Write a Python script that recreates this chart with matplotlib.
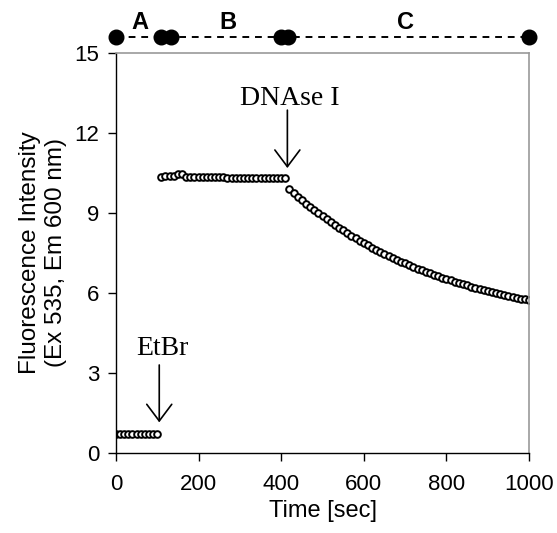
import matplotlib
matplotlib.use("Agg")
import matplotlib.pyplot as plt

# baseline before EtBr
t_base = [0, 10, 20, 30, 40, 50, 60, 70, 80, 90, 100]
f_base = [0.70, 0.70, 0.70, 0.70, 0.70, 0.70, 0.70, 0.70, 0.70, 0.70, 0.70]

# plateau after EtBr
t_etbr = [110, 120, 130, 140, 150, 160, 170, 180, 190, 200, 210, 220, 230, 240, 250,
          260, 270, 280, 290, 300, 310, 320, 330, 340, 350, 360, 370, 380, 390, 400, 410]
f_etbr = [10.36, 10.37, 10.38, 10.40, 10.45, 10.44, 10.36, 10.35, 10.35, 10.34, 10.34,
          10.34, 10.33, 10.33, 10.33, 10.33, 10.32, 10.32, 10.32, 10.32, 10.32, 10.32,
          10.31, 10.31, 10.31, 10.31, 10.31, 10.31, 10.30, 10.30, 10.30]

# decay after DNAse I
t_dnase = [420, 430, 440, 450, 460, 470, 480, 490, 500, 510, 520, 530, 540, 550, 560,
           570, 580, 590, 600, 610, 620, 630, 640, 650, 660, 670, 680, 690, 700, 710,
           720, 730, 740, 750, 760, 770, 780, 790, 800, 810, 820, 830, 840, 850, 860,
           870, 880, 890, 900, 910, 920, 930, 940, 950, 960, 970, 980, 990, 1000]
f_dnase = [9.89, 9.75, 9.61, 9.48, 9.35, 9.23, 9.11, 8.99, 8.87, 8.76, 8.65, 8.54, 8.44,
           8.34, 8.24, 8.14, 8.05, 7.96, 7.87, 7.79, 7.70, 7.62, 7.54, 7.46, 7.39, 7.31,
           7.24, 7.17, 7.11, 7.04, 6.98, 6.91, 6.85, 6.79, 6.74, 6.68, 6.62, 6.57, 6.52,
           6.47, 6.42, 6.37, 6.33, 6.28, 6.24, 6.19, 6.15, 6.11, 6.07, 6.03, 5.99, 5.96,
           5.92, 5.89, 5.85, 5.82, 5.79, 5.76, 5.73]

# phase boundaries shown above the plot
phase_t = [0, 110, 133, 400, 417, 1000]
phase_labels = ["A", "B", "C"]
phase_label_x = [58, 271, 700]

plt.rcParams["font.family"] = ["Liberation Sans", "DejaVu Sans"]

fig = plt.figure(figsize=(5.57, 5.33), dpi=100)
ax = fig.add_axes([0.208, 0.150, 0.742, 0.751])

marker_kw = dict(linestyle="none", marker="o", markersize=4.8, markerfacecolor="white",
                 markeredgecolor="black", markeredgewidth=1.4)
ax.plot(t_base, f_base, **marker_kw)
ax.plot(t_etbr, f_etbr, **marker_kw)
ax.plot(t_dnase, f_dnase, **marker_kw)

# phase bar
ax.plot(phase_t, [15.6] * len(phase_t), color="black", linestyle=(0, (3.5, 3)), lw=1.4,
        marker="o", markersize=10.5, clip_on=False)
for lab, x in zip(phase_labels, phase_label_x):
    ax.text(x, 16.15, lab, ha="center", va="center", fontsize=17, fontweight="bold",
            clip_on=False)

# annotations
arrow = dict(arrowstyle="->, head_length=1.2, head_width=0.9", lw=1.2, color="black",
             shrinkA=0, shrinkB=0)
ax.annotate("", xy=(105, 1.15), xytext=(105, 3.3), arrowprops=arrow)
ax.text(112, 3.9, "EtBr", ha="center", va="center", fontsize=20,
        family="Liberation Serif")
ax.annotate("", xy=(415, 10.68), xytext=(415, 12.85), arrowprops=arrow)
ax.text(420, 13.27, "DNAse I", ha="center", va="center", fontsize=20,
        family="Liberation Serif")

ax.set_xlim(0, 1000)
ax.set_ylim(0, 15)
ax.set_xticks([0, 200, 400, 600, 800, 1000])
ax.set_yticks([0, 3, 6, 9, 12, 15])
ax.tick_params(axis="both", direction="out", length=6, width=1, labelsize=16, pad=6)
ax.tick_params(axis="x", pad=9)
ax.set_xlabel("Time [sec]", fontsize=17, labelpad=4)
ax.set_ylabel("Fluorescence Intensity\n(Ex 535, Em 600 nm)", fontsize=17.5,
              labelpad=5, linespacing=1.25)

for side in ("left", "bottom"):
    ax.spines[side].set_color("black")
    ax.spines[side].set_linewidth(1.0)
for side in ("top", "right"):
    ax.spines[side].set_color("#999999")
    ax.spines[side].set_linewidth(1.2)

fig.savefig("out.png", dpi=100)
